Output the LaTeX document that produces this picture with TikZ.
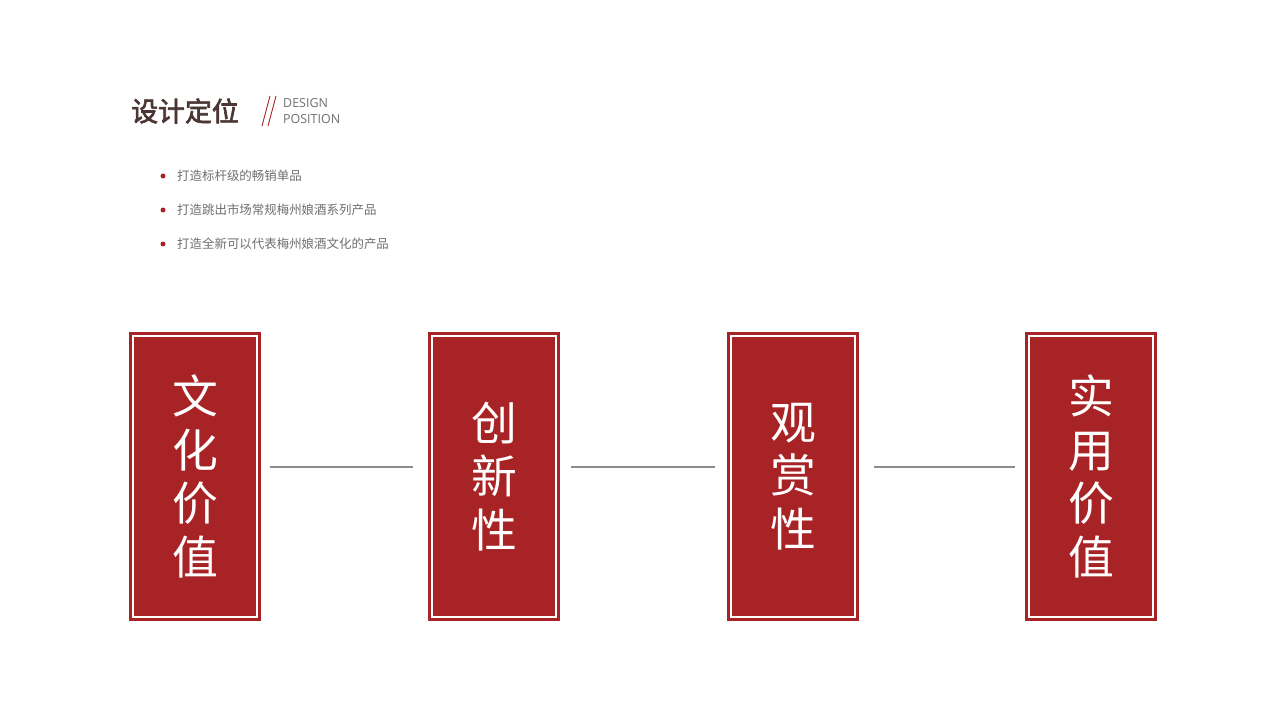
\documentclass[tikz,border=0pt]{standalone}
\usepackage{fontspec}
\setmainfont{Noto Sans CJK SC}[AutoFakeBold=2.5]
\newfontfamily\latinsans{Open Sans}
\usetikzlibrary{positioning, calc}
\definecolor{boxred}{HTML}{A82325}
\definecolor{titlebrown}{HTML}{4A3633}
\definecolor{textgray}{HTML}{6E6E6E}
\definecolor{linegray}{HTML}{8C8C8C}
\tikzset{
    my-box/.style={
        fill=boxred, minimum width=132bp, minimum height=289bp, inner sep=0pt,
        text=white, align=center, font=\fontsize{46}{54}\selectfont
    },
    my-bullet/.style={
        fill=boxred, shape=circle, minimum size=5pt, inner sep=0pt
    },
    my-item/.style={
        anchor=west, text=textgray, font=\fontsize{12.5}{14}\selectfont, inner sep=0pt
    },
    my-link/.style={
        draw=linegray, line width=1.2pt
    },
}

\begin{document}
\begin{tikzpicture}[x=1bp, y=-1bp]

        \useasboundingbox (0,0) rectangle (1280,720);

        % TITLE ---------------------------------------------------------------
        \node[anchor=west, inner sep=0pt, text=titlebrown, font=\fontsize{27}{30}\selectfont\bfseries] (TITLE) at (131, 111) {设计定位};
        \coordinate (SLASH1) at (262, 126);
        \coordinate (SLASH2) at (268, 126);
        \draw[boxred, line width=0.9pt] (SLASH1) -- ++(8, -30);
        \draw[boxred, line width=0.9pt] (SLASH2) -- ++(8, -30);
        \node[anchor=west, inner sep=0pt, text=textgray, font=\latinsans\fontsize{12.5}{14}\selectfont] (SUB1) at (283, 103) {DESIGN};
        \node[anchor=west, inner sep=0pt, text=textgray, font=\latinsans\fontsize{12.5}{14}\selectfont] (SUB2) at (283, 119) {POSITION};

        % BULLET LIST ---------------------------------------------------------
        \foreach \y/\txt [count=\i] in {176/打造标杆级的畅销单品, 210/打造跳出市场常规梅州娘酒系列产品, 244/打造全新可以代表梅州娘酒文化的产品} {
            \node[my-bullet] (DOT\i) at (163, \y) {};
            \node[my-item]   (ITEM\i) at (177, \y) {\txt};
        }

        % BOXES ---------------------------------------------------------------
        \node[my-box] (CULTURE) at (195, 476.5) {文\\化\\价\\值};
        \node[my-box] (NOVELTY) at (494, 476.5) {创\\新\\性};
        \node[my-box] (VIEWING) at (793, 476.5) {观\\赏\\性};
        \node[my-box] (UTILITY) at (1091, 476.5) {实\\用\\价\\值};

        % WHITE INNER FRAMES
        \foreach \b in {CULTURE, NOVELTY, VIEWING, UTILITY} {
            \draw[white, line width=2.2pt] ([shift={(4.5bp,-4.5bp)}]\b.north west) rectangle ([shift={(-4.5bp,4.5bp)}]\b.south east);
        }

        % CONNECTORS
        \draw[my-link, shorten <=9bp, shorten >=15bp] (CULTURE.east |- 0,467) -- (NOVELTY.west |- 0,467);
        \draw[my-link, shorten <=11bp, shorten >=12bp] (NOVELTY.east |- 0,467) -- (VIEWING.west |- 0,467);
        \draw[my-link, shorten <=15bp, shorten >=10bp] (VIEWING.east |- 0,467) -- (UTILITY.west |- 0,467);

\end{tikzpicture}
\end{document}
